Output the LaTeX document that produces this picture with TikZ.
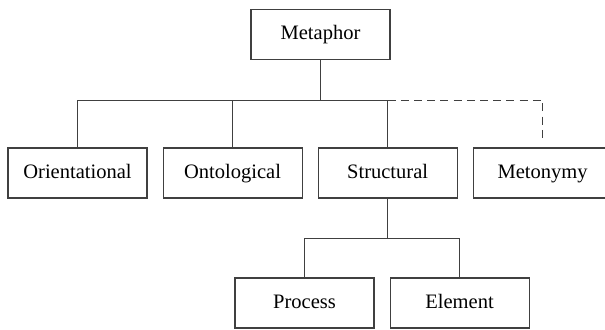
\documentclass[tikz,border=0pt]{standalone}
\usepackage{fontspec}
\setmainfont{Liberation Serif}
\usetikzlibrary{positioning}

\begin{document}
\begin{tikzpicture}[
    node distance=0.375,
    box/.style={draw=black!75, line width=0.75pt, minimum width=3.475cm, minimum height=1.25cm, inner sep=0pt,
        text height=2.2ex, text depth=0.6ex, font=\fontsize{14.6}{17}\selectfont},
    link/.style={draw=black!75, line width=0.75pt},
 ]
    \useasboundingbox (0,0) rectangle (15.125,-8.225);
    \node[box] (Meta) at (8.0125,-0.8625) {Metaphor};
    \coordinate[below=1 of Meta] (bus);

    \node[box] (Orient) at (1.9375,-4.325) {Orientational};
    \node[box, right=of Orient] (Onto) {Ontological};
    \node[box, right=of Onto] (Struct) {Structural};
    \node[box, right=of Struct] (Meton) {Metonymy};
    \coordinate[above=0.225 of Meton] (MetonTop);
    \draw[link] (Meta) -- (bus);
    \draw[link] (Orient.north) |- (Struct.north |- bus) -- (Struct.north);
    \draw[link] (Onto.north) -- (Onto.north |- bus);
    \draw[link, dash pattern=on 0.2cm off 0.13cm] (Struct.north |- bus) -| (MetonTop);

    \node[box] (Proc) at (7.6125,-7.575) {Process};
    \node[box, right=of Proc] (Elem) {Element};
    \coordinate[below=1 of Struct] (subbus);
    \draw[link] (Struct) -- (subbus);
    \draw[link] (Proc.north) |- (Elem.north |- subbus) -- (Elem.north);
\end{tikzpicture}
\end{document}
